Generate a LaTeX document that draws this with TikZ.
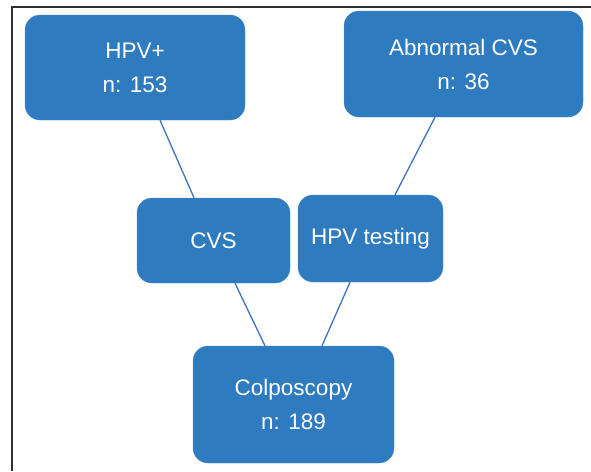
\documentclass[tikz,border=0pt]{standalone}
\usepackage{fontspec}
\setmainfont{Liberation Sans}
\usetikzlibrary{positioning}

\definecolor{boxblue}{HTML}{2E7BC0}
\definecolor{lineblue}{HTML}{3F72C0}
\definecolor{framegray}{HTML}{303030}

\begin{document}
\begin{tikzpicture}[x=1pt, y=-1pt,
    box/.style={draw=boxblue!85!white, fill=boxblue, rounded corners=15pt, text=white,
                align=center, inner sep=0pt, font=\fontsize{22.5}{34}\selectfont},
    link/.style={lineblue, line width=1.3pt}]
        \useasboundingbox [fill=white] (0,0) rectangle (591,471);
        \draw [framegray, line width=2pt] (11.5,471) -- (11.5,6.5) -- (591,6.5);
        % boxes
        \node [box, minimum width=220pt, minimum height=105pt] (hpvpos) at (135,67.5) {HPV+\\n: 153};
        \node [box, minimum width=239pt, minimum height=106pt] (abncvs) at (463.5,64) {Abnormal CVS\\n: 36};
        \node [box, minimum width=153pt, minimum height=85pt] (cvs) at (213.5,240.5) {CVS};
        \node [box, minimum width=145pt, minimum height=87pt] (hpvtest) at (370.5,238.5) {HPV testing};
        \node [box, minimum width=201pt, minimum height=117pt] (colpo) at (293.5,404.5) {Colposcopy\\n: 189};
        % links
        \draw [link] ([xshift=25pt]hpvpos.south) -- ([xshift=-19.5pt]cvs.north);
        \draw [link] ([xshift=-28.5pt]abncvs.south) -- ([xshift=24.5pt]hpvtest.north);
        \draw [link] ([xshift=21.5pt]cvs.south) -- ([xshift=-28.5pt]colpo.north);
        \draw [link] ([xshift=-20.5pt]hpvtest.south) -- ([xshift=28.5pt]colpo.north);
      \end{tikzpicture}
\end{document}
